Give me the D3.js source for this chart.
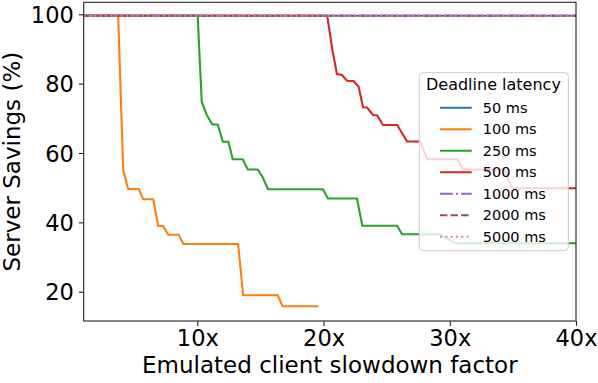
<!DOCTYPE html>
<html>
<head>
<meta charset="utf-8">
<script src="https://cdn.jsdelivr.net/npm/d3@7"></script>
<style>
  body { margin: 0; background: #fff; }
  svg { display: block; font-family: "DejaVu Sans", sans-serif; }
</style>
</head>
<body>
<div class="chart"></div>
<script>
// Server savings vs emulated client slowdown, one line per deadline latency

var latencies = ["50 ms", "100 ms", "250 ms", "500 ms", "1000 ms", "2000 ms", "5000 ms"];
var colors = ["#1f77b4", "#ff7f0e", "#2ca02c", "#d62728", "#9467bd", "#8c564b", "#e377c2"];

// flat series (50, 1000, 2000, 5000 ms) never drop
var xFlat = [1, 40];
var yFlat = [99.6, 99.6];

var x100 = [1, 3.73, 4.13, 4.52, 5.37, 5.71, 6.51, 6.9, 7.28, 7.7, 8.52, 8.89, 13.23, 13.63, 16.38, 16.75, 19.6];
var y100 = [99.6, 99.6, 55.1, 49.6, 49.6, 46.65, 46.65, 38.95, 38.95, 36.44, 36.44, 33.76, 33.76, 18.96, 18.96, 15.8, 15.8];

var x250 = [1, 10.03, 10.35, 10.75, 11.19, 11.62, 12.02, 12.46, 12.81, 13.6, 14.0, 14.79, 15.19, 15.59, 19.95, 20.35, 22.65, 23.07, 25.83, 26.22, 29.26, 30.45, 40];
var y250 = [99.6, 99.6, 74.8, 70.96, 68.2, 68.2, 63.26, 63.26, 58.2, 58.2, 55.24, 55.24, 52.93, 49.56, 49.56, 46.88, 46.88, 39.03, 39.03, 36.55, 36.55, 33.96, 33.96];

var x500 = [1, 20.29, 20.71, 21.06, 21.46, 21.86, 22.38, 22.78, 23.13, 23.44, 23.92, 24.24, 24.71, 25.83, 26.62, 27.67, 28.21, 30.59, 31.05, 34.34, 34.95, 40];
var y500 = [99.6, 99.6, 89.56, 82.78, 82.5, 80.82, 80.76, 79.12, 73.18, 73.1, 70.96, 70.9, 68.08, 68.08, 63.32, 63.32, 58.2, 58.2, 55.24, 55.24, 49.82, 49.82];

var xTicks = [10, 20, 30, 40];
var yTicks = [20, 40, 60, 80, 100];

var seriesX = [xFlat, x100, x250, x500, xFlat, xFlat, xFlat];
var seriesY = [yFlat, y100, y250, y500, yFlat, yFlat, yFlat];
var dashes = [null, null, null, null, "12.8,3.2,2,3.2", "7.4,3.2", "2,3.3"];

var svgWidth = 598;
var svgHeight = 383;
var margin = { top: 2.3, right: 22, bottom: 62, left: 83.7 };
var width = svgWidth - margin.left - margin.right;
var height = svgHeight - margin.top - margin.bottom;

var svg = d3.select(".chart")
    .append("svg")
    .attr("width", svgWidth)
    .attr("height", svgHeight);

var chart = svg.append("g")
    .attr("transform", "translate(" + margin.left + "," + margin.top + ")");

var xScale = d3.scaleLinear().domain([1, 40]).range([0, width]);
var yScale = d3.scaleLinear().domain([11.55, 103.46]).range([height, 0]);

chart.append("clipPath").attr("id", "clip")
    .append("rect").attr("width", width).attr("height", height);

var line = d3.line()
    .x(function(d) { return xScale(d[0]); })
    .y(function(d) { return yScale(d[1]); });

// draw lines in legend order so dotted ones land on top
var lines = chart.append("g").attr("clip-path", "url(#clip)");
latencies.forEach(function(lat, i) {
    var pts = seriesX[i].map(function(x, j) { return [x, seriesY[i][j]]; });
    lines.append("path")
        .datum(pts)
        .attr("d", line)
        .attr("fill", "none")
        .attr("stroke", colors[i])
        .attr("stroke-width", 2.1)
        .attr("stroke-dasharray", dashes[i]);
});

// axes
var bottomAxis = d3.axisBottom(xScale)
    .tickValues(xTicks)
    .tickFormat(function(d) { return d + "x"; })
    .tickSize(4.9)
    .tickPadding(4);
var leftAxis = d3.axisLeft(yScale)
    .tickValues(yTicks)
    .tickSize(4.9)
    .tickPadding(5);

var xg = chart.append("g")
    .attr("transform", "translate(0," + height + ")")
    .call(bottomAxis);
var yg = chart.append("g").call(leftAxis);

[xg, yg].forEach(function(g) {
    g.select(".domain").remove();
    g.selectAll(".tick line").attr("stroke", "#222").attr("stroke-width", 1.1);
    g.selectAll(".tick text")
        .attr("fill", "#000")
        .style("font-size", "22.5px")
        .style("font-family", "DejaVu Sans");
});
yg.selectAll(".tick text").attr("dy", "0.36em");
xg.selectAll(".tick text").attr("dy", "0.72em");

// frame
chart.append("rect")
    .attr("width", width)
    .attr("height", height)
    .attr("fill", "none")
    .attr("stroke", "#222")
    .attr("stroke-width", 1.1);

// axis labels
chart.append("text")
    .attr("x", width / 2)
    .attr("y", 373.5 - margin.top)
    .attr("text-anchor", "middle")
    .style("font-size", "23px")
    .text("Emulated client slowdown factor");

chart.append("text")
    .attr("transform", "rotate(-90)")
    .attr("x", -height / 2)
    .attr("y", 20 - margin.left)
    .attr("text-anchor", "middle")
    .style("font-size", "23px")
    .text("Server Savings (%)");

// legend
var legend = svg.append("g").attr("transform", "translate(419.3,72.7)");
legend.append("rect")
    .attr("width", 149)
    .attr("height", 178)
    .attr("rx", 3.5)
    .attr("fill", "#fff")
    .attr("fill-opacity", 0.8)
    .attr("stroke", "#cccccc")
    .attr("stroke-width", 1);

legend.append("text")
    .attr("x", 6.7)
    .attr("y", 17.8)
    .style("font-size", "16px")
    .text("Deadline latency");

latencies.forEach(function(lat, i) {
    var cy = 35 + i * 21.5;
    legend.append("line")
        .attr("x1", 20.7)
        .attr("x2", 52.4)
        .attr("y1", cy)
        .attr("y2", cy)
        .attr("stroke", colors[i])
        .attr("stroke-width", 2.1)
        .attr("stroke-dasharray", dashes[i]);
    legend.append("text")
        .attr("x", 63.4)
        .attr("y", cy + 5.2)
        .style("font-size", "14.5px")
        .text(lat);
});
</script>
</body>
</html>
